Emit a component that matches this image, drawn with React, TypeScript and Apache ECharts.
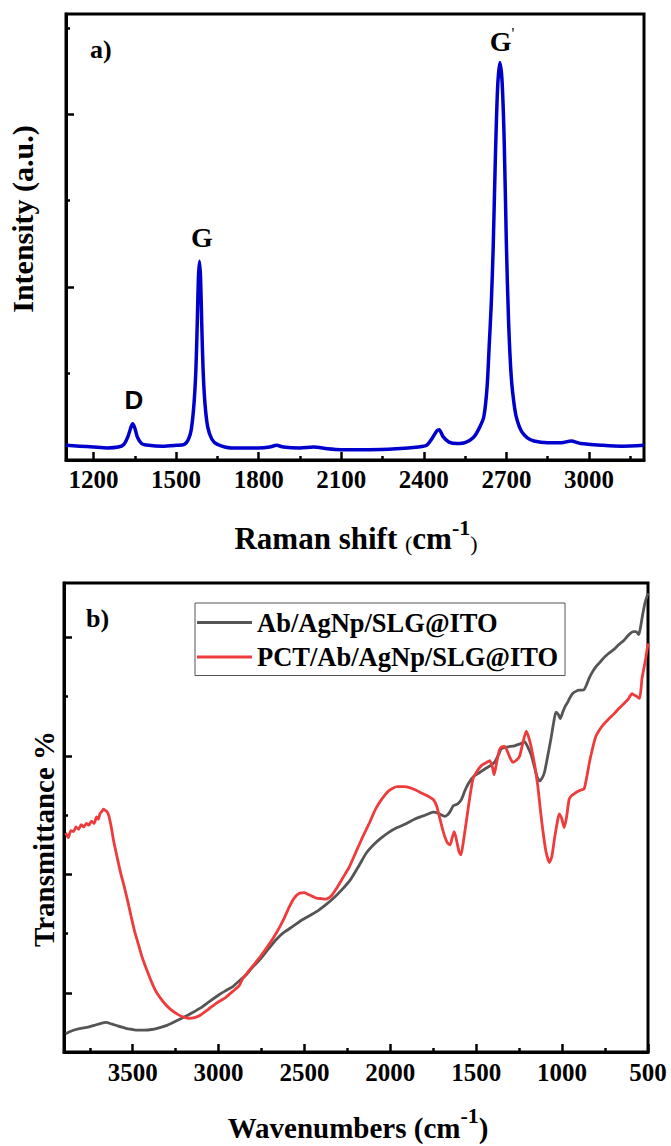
import React, { useEffect, useRef } from "react";
import * as echarts from "echarts";

// ---------- Panel a: Raman spectrum ----------
const ramanShift = [
  1100, 1150, 1200, 1250, 1290, 1310, 1325, 1335, 1342, 1350, 1360, 1375, 1400, 1450, 1500,
  1530, 1545, 1555, 1565, 1572, 1577, 1581, 1585, 1589, 1593, 1598, 1605, 1615, 1630, 1650,
  1700, 1750, 1800, 1840, 1865, 1890, 1950, 2000, 2050, 2100, 2200, 2300, 2380, 2410, 2430,
  2448, 2456, 2470, 2490, 2520, 2550, 2580, 2600, 2618, 2630, 2638, 2645, 2652, 2660, 2668,
  2676, 2684, 2692, 2700, 2708, 2718, 2730, 2740, 2755, 2775, 2800, 2850, 2900, 2935, 2970,
  3050, 3120, 3200,
];
const ramanIntensity = [
  0.17, 0.16, 0.15, 0.14, 0.15, 0.18, 0.27, 0.37, 0.42, 0.37, 0.26, 0.19, 0.17, 0.16, 0.17,
  0.18, 0.24, 0.35, 0.65, 1.05, 1.6, 2.1, 2.3, 2.1, 1.6, 1.05, 0.65, 0.38, 0.24, 0.18,
  0.14, 0.14, 0.14, 0.15, 0.17, 0.15, 0.14, 0.15, 0.13, 0.12, 0.12, 0.13, 0.15, 0.17, 0.25,
  0.34, 0.35, 0.27, 0.21, 0.19, 0.2, 0.26, 0.36, 0.5, 0.85, 1.35, 1.8, 2.45, 3.5, 4.3,
  4.6, 4.4, 3.7, 2.5, 1.6, 0.95, 0.6, 0.45, 0.33, 0.26, 0.22, 0.2, 0.2, 0.22, 0.19,
  0.17, 0.16, 0.17,
];
const ramanMajorTicks = [1200, 1500, 1800, 2100, 2400, 2700, 3000];
const ramanMinorTicks = [1350, 1650, 1950, 2250, 2550, 2850, 3150];
const ramanYMajor = [2, 4];
const ramanYMinor = [1, 3, 5];

// ---------- Panel b: FTIR spectra ----------
const abWavenumber = [
  3890, 3860, 3830, 3801, 3760, 3724, 3690, 3656, 3620, 3588, 3540, 3500, 3473, 3430, 3390,
  3357, 3300, 3242, 3180, 3107, 3050, 2991, 2950, 2915, 2880, 2837, 2800, 2760, 2710, 2664,
  2620, 2568, 2530, 2490, 2430, 2375, 2330, 2279, 2230, 2182, 2140, 2105, 2060, 2009, 1960,
  1912, 1860, 1816, 1780, 1749, 1720, 1700, 1681, 1665, 1652, 1633, 1615, 1604, 1585, 1565,
  1546, 1525, 1508, 1480, 1450, 1420, 1392, 1370, 1354, 1320, 1277, 1260, 1248, 1230, 1219,
  1205, 1195, 1180, 1160, 1145, 1132, 1118, 1103, 1085, 1065, 1050, 1036, 1022, 1011, 995,
  980, 969, 955, 940, 920, 901, 885, 872, 858, 843, 825, 805, 780, 756, 730,
  698, 670, 641, 620, 603, 585, 570, 554, 545, 535, 525, 516, 500,
];
const abTransmittance = [
  0.31, 0.35, 0.38, 0.4, 0.42, 0.45, 0.48, 0.5, 0.47, 0.44, 0.4, 0.38, 0.37, 0.37, 0.38,
  0.4, 0.45, 0.53, 0.62, 0.74, 0.86, 0.98, 1.05, 1.11, 1.2, 1.31, 1.44, 1.56, 1.74, 1.9,
  2.02, 2.12, 2.2, 2.27, 2.37, 2.49, 2.6, 2.75, 2.92, 3.15, 3.36, 3.48, 3.6, 3.71, 3.79,
  3.85, 3.93, 3.98, 4.02, 4.05, 4.03, 4.0, 3.98, 4.01, 4.06, 4.16, 4.18, 4.2, 4.27, 4.42,
  4.53, 4.62, 4.67, 4.72, 4.78, 4.83, 4.9, 5.02, 5.12, 5.15, 5.17, 5.19, 5.2, 5.22, 5.24,
  5.18, 5.12, 5.02, 4.8, 4.64, 4.58, 4.62, 4.72, 4.98, 5.29, 5.55, 5.74, 5.7, 5.63, 5.75,
  5.85, 5.9, 5.98, 6.05, 6.09, 6.11, 6.11, 6.12, 6.2, 6.31, 6.41, 6.5, 6.58, 6.66, 6.73,
  6.8, 6.88, 6.95, 7.02, 7.07, 7.1, 7.1, 7.05, 7.15, 7.32, 7.48, 7.6, 7.75,
];
const pctWavenumber = [
  3890, 3875, 3860, 3845, 3830, 3815, 3800, 3785, 3770, 3755, 3740, 3725, 3710, 3700, 3690,
  3680, 3670, 3660, 3650, 3640, 3625, 3610, 3590, 3570, 3550, 3530, 3510, 3490, 3465, 3445,
  3420, 3390, 3360, 3320, 3280, 3240, 3205, 3175, 3140, 3107, 3060, 3010, 2960, 2915, 2880,
  2857, 2810, 2760, 2710, 2664, 2620, 2587, 2560, 2530, 2500, 2470, 2432, 2400, 2375, 2346,
  2310, 2279, 2240, 2200, 2163, 2120, 2086, 2050, 2009, 1961, 1920, 1884, 1850, 1816, 1780,
  1749, 1730, 1715, 1695, 1681, 1665, 1652, 1640, 1628, 1615, 1600, 1589, 1575, 1556, 1535,
  1518, 1495, 1469, 1440, 1421, 1405, 1396, 1387, 1377, 1365, 1354, 1335, 1325, 1305, 1286,
  1265, 1248, 1230, 1209, 1195, 1180, 1160, 1142, 1125, 1113, 1095, 1074, 1060, 1045, 1030,
  1017, 1003, 988, 975, 959, 945, 930, 915, 901, 885, 872, 858, 843, 825, 805,
  780, 756, 730, 698, 670, 641, 615, 593, 575, 564, 549, 540, 535, 516, 500,
];
const pctTransmittance = [
  3.7, 3.62, 3.74, 3.72, 3.8, 3.76, 3.84, 3.8, 3.86, 3.83, 3.9, 3.86, 3.97, 3.93, 4.03,
  4.06, 4.1, 4.08, 4.06, 4.0, 3.8, 3.55, 3.28, 3.02, 2.8, 2.56, 2.3, 2.05, 1.8, 1.6,
  1.4, 1.18, 1.0, 0.84, 0.72, 0.64, 0.59, 0.57, 0.58, 0.62, 0.72, 0.83, 0.92, 1.03, 1.12,
  1.25, 1.42, 1.6, 1.8, 2.01, 2.25, 2.46, 2.6, 2.68, 2.69, 2.65, 2.6, 2.59, 2.58, 2.63,
  2.78, 2.93, 3.12, 3.38, 3.62, 3.88, 4.1, 4.27, 4.41, 4.48, 4.48, 4.46, 4.42, 4.37, 4.32,
  4.26, 4.15, 3.98, 3.75, 3.62, 3.52, 3.5, 3.62, 3.72, 3.58, 3.38, 3.33, 3.55, 3.93, 4.35,
  4.62, 4.74, 4.84, 4.89, 4.92, 4.8, 4.68, 4.8, 4.95, 5.1, 5.15, 5.16, 5.12, 4.98, 4.89,
  4.93, 4.99, 5.2, 5.42, 5.32, 5.15, 4.85, 4.5, 4.05, 3.76, 3.4, 3.2, 3.3, 3.59, 3.85,
  4.02, 3.95, 3.79, 3.95, 4.27, 4.33, 4.36, 4.39, 4.41, 4.43, 4.44, 4.62, 4.86, 5.1, 5.32,
  5.45, 5.54, 5.62, 5.71, 5.8, 5.88, 5.96, 6.05, 6.02, 6.0, 5.97, 6.15, 6.31, 6.6, 6.9,
];
const ftirMajorTicks = [3500, 3000, 2500, 2000, 1500, 1000, 500];
const ftirMinorTicks = [3750, 3250, 2750, 2250, 1750, 1250, 750];
const ftirYMajor = [1, 3, 5, 7];
const ftirYMinor = [2, 4, 6];
const seriesNames = ["Ab/AgNp/SLG@ITO", "PCT/Ab/AgNp/SLG@ITO"];

const SERIF = "'Liberation Serif', 'Times New Roman', serif";
const SANS = "'Liberation Sans', Arial, sans-serif";

function xAxisPair(gridIndex: number, min: number, max: number, major: number[], minor: number[], inverse: boolean, margin: number) {
  return [
    {
      type: "value", gridIndex, min, max, inverse, position: "bottom",
      axisLine: { show: true, onZero: false, lineStyle: { color: "#000", width: 3 } },
      axisTick: { show: true, inside: true, length: 8, customValues: major, lineStyle: { color: "#000", width: 2.5 } },
      axisLabel: {
        show: true, customValues: major, margin, color: "#000", fontSize: 25, fontWeight: "bold", fontFamily: SERIF,
        formatter: (v: number) => String(v),
      },
      splitLine: { show: false },
    },
    {
      type: "value", gridIndex, min, max, inverse, position: "bottom",
      axisLine: { show: false, onZero: false },
      axisTick: { show: true, inside: true, length: 4, customValues: minor, lineStyle: { color: "#000", width: 2.5 } },
      axisLabel: { show: false },
      splitLine: { show: false },
    },
  ];
}

function yAxisPair(gridIndex: number, min: number, max: number, major: number[], minor: number[]) {
  return [
    {
      type: "value", gridIndex, min, max, position: "left",
      axisLine: { show: true, onZero: false, lineStyle: { color: "#000", width: 3 } },
      axisTick: { show: true, inside: true, length: 8, customValues: major, lineStyle: { color: "#000", width: 2.5 } },
      axisLabel: { show: false },
      splitLine: { show: false },
    },
    {
      type: "value", gridIndex, min, max, position: "left",
      axisLine: { show: false, onZero: false },
      axisTick: { show: true, inside: true, length: 4, customValues: minor, lineStyle: { color: "#000", width: 2.5 } },
      axisLabel: { show: false },
      splitLine: { show: false },
    },
  ];
}

function titleRich(size: number) {
  return {
    t: { fontSize: size, fontWeight: "bold", fontFamily: SERIF, color: "#000", lineHeight: 38, verticalAlign: "bottom" },
    p: { fontSize: 22, fontWeight: "normal", fontFamily: SERIF, color: "#000", lineHeight: 38, verticalAlign: "bottom" },
    s: { fontSize: 22, fontWeight: "bold", fontFamily: SERIF, color: "#000", lineHeight: 22, verticalAlign: "top" },
  };
}

function textEl(text: string, x: number, y: number, size: number, family: string, align = "center", rotation = 0, rich?: any) {
  return {
    type: "text", x, y, rotation, silent: true,
    style: {
      text, rich, fill: "#000", fontSize: size, fontWeight: "bold", fontFamily: family,
      align, verticalAlign: "middle", textAlign: align, textVerticalAlign: "middle",
    },
  };
}

export default function App() {
  const ref = useRef<HTMLDivElement>(null);
  useEffect(() => {
    if (!ref.current) return;
    const chart = echarts.init(ref.current, null, { renderer: "svg" });
    const option: any = {
      animation: false,
      backgroundColor: "#fff",
      grid: [
        { left: 66, top: 14, width: 578, height: 446, show: true, borderColor: "#000", borderWidth: 3, backgroundColor: "transparent" },
        { left: 64, top: 583, width: 584, height: 469, show: true, borderColor: "#000", borderWidth: 3, backgroundColor: "transparent" },
      ],
      xAxis: [
        ...xAxisPair(0, 1100, 3200, ramanMajorTicks, ramanMinorTicks, false, 7),
        ...xAxisPair(1, 500, 3900, ftirMajorTicks, ftirMinorTicks, true, 8),
      ],
      yAxis: [
        ...yAxisPair(0, 0, 5.16, ramanYMajor, ramanYMinor),
        ...yAxisPair(1, 0, 7.92, ftirYMajor, ftirYMinor),
      ],
      legend: {
        orient: "vertical", left: 195, top: 603, itemWidth: 55, itemHeight: 3, itemGap: 7.5, icon: "rect",
        padding: [6, 7, 5, 2], borderColor: "#555", borderWidth: 1, backgroundColor: "#fff",
        textStyle: { fontSize: 26.5, fontWeight: "bold", fontFamily: SERIF, color: "#000" },
        data: seriesNames,
      },
      series: [
        {
          name: "Raman", type: "line", xAxisIndex: 0, yAxisIndex: 0, symbol: "none", smooth: 0.25,
          lineStyle: { color: "#0000cc", width: 3.5 }, itemStyle: { color: "#0000cc" },
          data: ramanShift.map((x, i) => [x, ramanIntensity[i]]),
        },
        {
          name: seriesNames[0], type: "line", xAxisIndex: 2, yAxisIndex: 2, symbol: "none", smooth: 0.2,
          lineStyle: { color: "#555555", width: 2.8 }, itemStyle: { color: "#555555" },
          data: abWavenumber.map((x, i) => [x, abTransmittance[i]]),
        },
        {
          name: seriesNames[1], type: "line", xAxisIndex: 2, yAxisIndex: 2, symbol: "none", smooth: 0.2,
          lineStyle: { color: "#ee3b3b", width: 2.8 }, itemStyle: { color: "#ee3b3b" },
          data: pctWavenumber.map((x, i) => [x, pctTransmittance[i]]),
        },
      ],
      graphic: [
        textEl("a)", 90, 49, 26, SERIF, "left"),
        textEl("D", 134, 400, 26, SANS),
        textEl("G", 202, 237, 28, SERIF),
        textEl("{g|G}{q|'}", 502, 40, 28, SERIF, "center", 0, {
          g: { fontSize: 28, fontWeight: "bold", fontFamily: SERIF, color: "#000", lineHeight: 30, verticalAlign: "bottom" },
          q: { fontSize: 16, fontWeight: "normal", fontFamily: SERIF, color: "#000", lineHeight: 16, verticalAlign: "top" },
        }),
        textEl("{t|Raman shift }{p|(}{t|cm}{s|-1}{p|)}", 356, 535, 31, SERIF, "center", 0, titleRich(31)),
        textEl("Intensity (a.u.)", 22, 219, 30, SERIF, "center", Math.PI / 2),
        textEl("b)", 86, 618, 26, SERIF, "left"),
        textEl("Transmittance %", 44, 839, 29, SERIF, "center", Math.PI / 2),
        textEl("{t|Wavenumbers (cm}{s|-1}{t|)}", 358, 1123, 29, SERIF, "center", 0, titleRich(29)),
      ],
    };
    chart.setOption(option);
    return () => chart.dispose();
  }, []);
  return <div ref={ref} style={{ position: "absolute", left: 0, top: 0, width: 671, height: 1146 }} />;
}
